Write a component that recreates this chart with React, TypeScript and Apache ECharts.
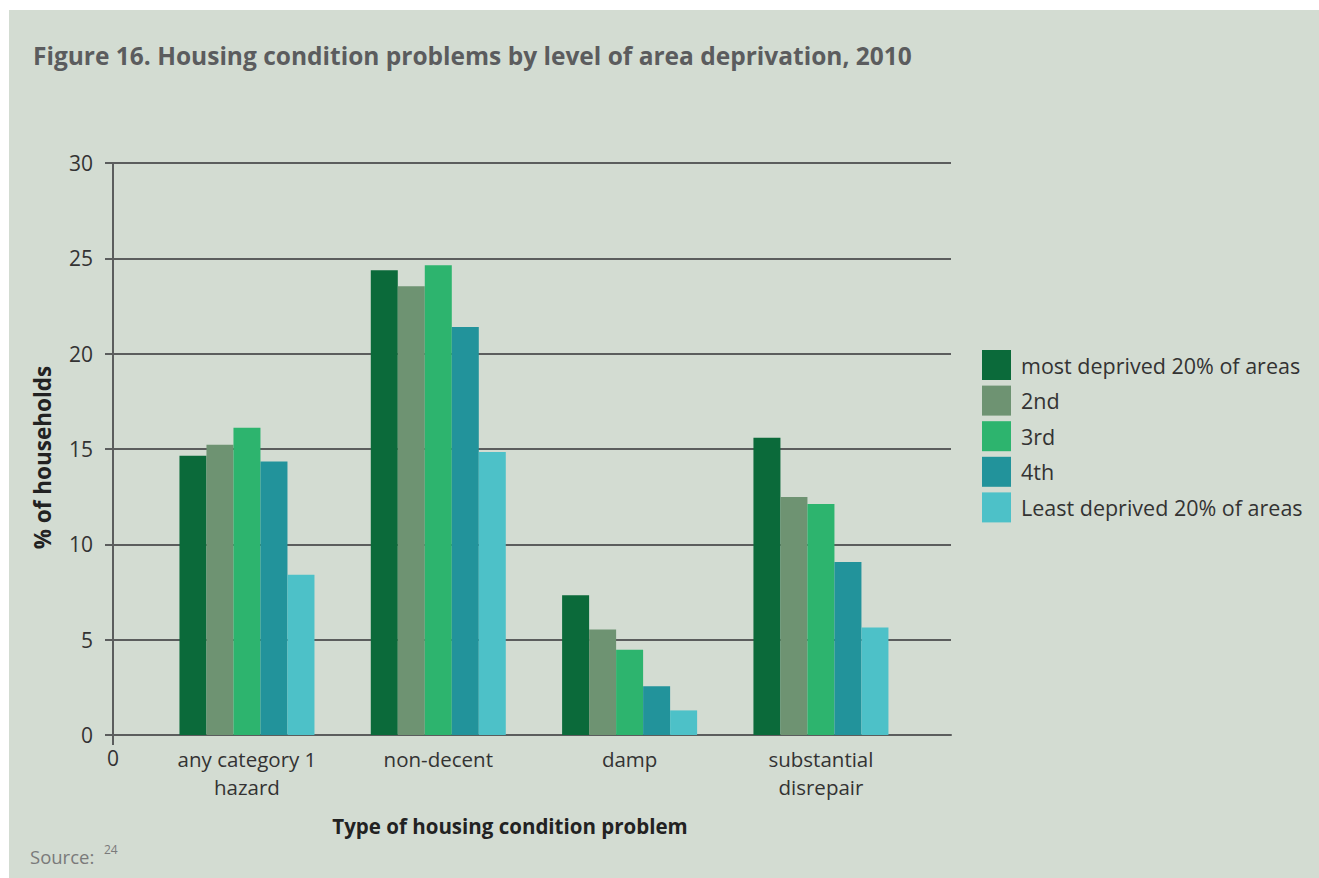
import React, { useEffect, useRef } from "react";
import * as echarts from "echarts";

const categories = ["any category 1\nhazard", "non-decent", "damp", "substantial\ndisrepair"];
const seriesNames = [
  "most deprived 20% of areas",
  "2nd",
  "3rd",
  "4th",
  "Least deprived 20% of areas",
];
const mostDeprived = [14.65, 24.38, 7.33, 15.59];
const second = [15.22, 23.53, 5.53, 12.48];
const third = [16.11, 24.64, 4.47, 12.11];
const fourth = [14.34, 21.4, 2.56, 9.07];
const leastDeprived = [8.4, 14.84, 1.29, 5.64];
const seriesColors = ["#0b6a3a", "#6e9372", "#2db46e", "#22939b", "#4dc1c8"];
const yMin = 0;
const yMax = 30;
const yInterval = 5;

const FONT = "'Open Sans', sans-serif";
const AXIS_COLOR = "#5b5d5d";
const TEXT_COLOR = "#333333";

export default function App() {
  const ref = useRef<HTMLDivElement>(null);

  useEffect(() => {
    if (!ref.current) return;
    const chart = echarts.init(ref.current, undefined, { renderer: "svg" });
    const values = [mostDeprived, second, third, fourth, leastDeprived];

    chart.setOption({
      animation: false,
      backgroundColor: "#d3dcd2",
      textStyle: { fontFamily: FONT },
      title: {
        text: "Figure 16. Housing condition problems by level of area deprivation, 2010",
        left: 24,
        top: 33,
        padding: 0,
        textStyle: { fontFamily: FONT, fontSize: 24.5, fontWeight: "bold", color: "#5b5c5e" },
      },
      legend: {
        data: seriesNames,
        orient: "vertical",
        left: 973,
        top: 340,
        padding: 0,
        itemWidth: 29,
        itemHeight: 30,
        itemGap: 5.6,
        icon: "rect",
        textStyle: { fontFamily: FONT, fontSize: 21.5, color: TEXT_COLOR, padding: [0, 0, 0, 5] },
      },
      grid: [
        { left: 104, top: 153, width: 838, height: 572 },
        { left: 142.3, top: 153, width: 765.3, height: 572 },
      ],
      xAxis: [
        {
          type: "value",
          gridIndex: 0,
          min: 0,
          max: 1,
          axisLine: { show: true, onZero: false, lineStyle: { color: AXIS_COLOR, width: 2 } },
          axisTick: { show: true, length: 10, customValues: [0], lineStyle: { color: AXIS_COLOR, width: 2 } },
          axisLabel: {
            show: true,
            customValues: [0],
            formatter: () => "0",
            margin: 12,
            fontFamily: FONT,
            fontSize: 21,
            color: TEXT_COLOR,
          },
          splitLine: { show: false },
        },
        {
          type: "category",
          gridIndex: 1,
          data: categories,
          axisLine: { show: false },
          axisTick: { show: false },
          axisLabel: {
            margin: 9.5,
            fontFamily: FONT,
            fontSize: 20.5,
            lineHeight: 28,
            color: TEXT_COLOR,
            interval: 0,
          },
        },
      ],
      yAxis: [
        {
          type: "value",
          gridIndex: 0,
          min: yMin,
          max: yMax,
          interval: yInterval,
          axisLine: { show: true, lineStyle: { color: AXIS_COLOR, width: 2 } },
          axisTick: { show: true, length: 8, lineStyle: { color: AXIS_COLOR, width: 2 } },
          axisLabel: { margin: 20, fontFamily: FONT, fontSize: 21, color: TEXT_COLOR },
          splitLine: { show: true, lineStyle: { color: AXIS_COLOR, width: 2 } },
        },
        {
          type: "value",
          gridIndex: 1,
          min: yMin,
          max: yMax,
          interval: yInterval,
          show: false,
        },
      ],
      graphic: [
        {
          type: "text",
          x: 33,
          y: 447.5,
          rotation: Math.PI / 2,
          style: {
            text: "% of households",
            fontFamily: FONT,
            fontSize: 22.5,
            fontWeight: "bold",
            fill: "#222222",
            textAlign: "center",
            textVerticalAlign: "middle",
          },
        },
        {
          type: "text",
          x: 501,
          y: 816,
          style: {
            text: "Type of housing condition problem",
            fontFamily: FONT,
            fontSize: 20.5,
            fontWeight: "bold",
            fill: "#222222",
            textAlign: "center",
            textVerticalAlign: "middle",
          },
        },
        {
          type: "text",
          x: 21,
          y: 846,
          style: {
            text: "Source:",
            fontFamily: FONT,
            fontSize: 18.5,
            fill: "#7a7a7a",
            textAlign: "left",
            textVerticalAlign: "middle",
          },
        },
        {
          type: "text",
          x: 95,
          y: 839,
          style: {
            text: "24",
            fontFamily: FONT,
            fontSize: 12,
            fill: "#7a7a7a",
            textAlign: "left",
            textVerticalAlign: "middle",
          },
        },
      ],
      series: seriesNames.map((name, i) => ({
        name,
        type: "bar",
        xAxisIndex: 1,
        yAxisIndex: 1,
        data: values[i],
        barWidth: 27,
        barGap: "0%",
        itemStyle: { color: seriesColors[i] },
      })),
    });

    return () => chart.dispose();
  }, []);

  return (
    <div
      ref={ref}
      style={{ position: "fixed", left: 9, top: 10, width: 1310, height: 868 }}
    />
  );
}
